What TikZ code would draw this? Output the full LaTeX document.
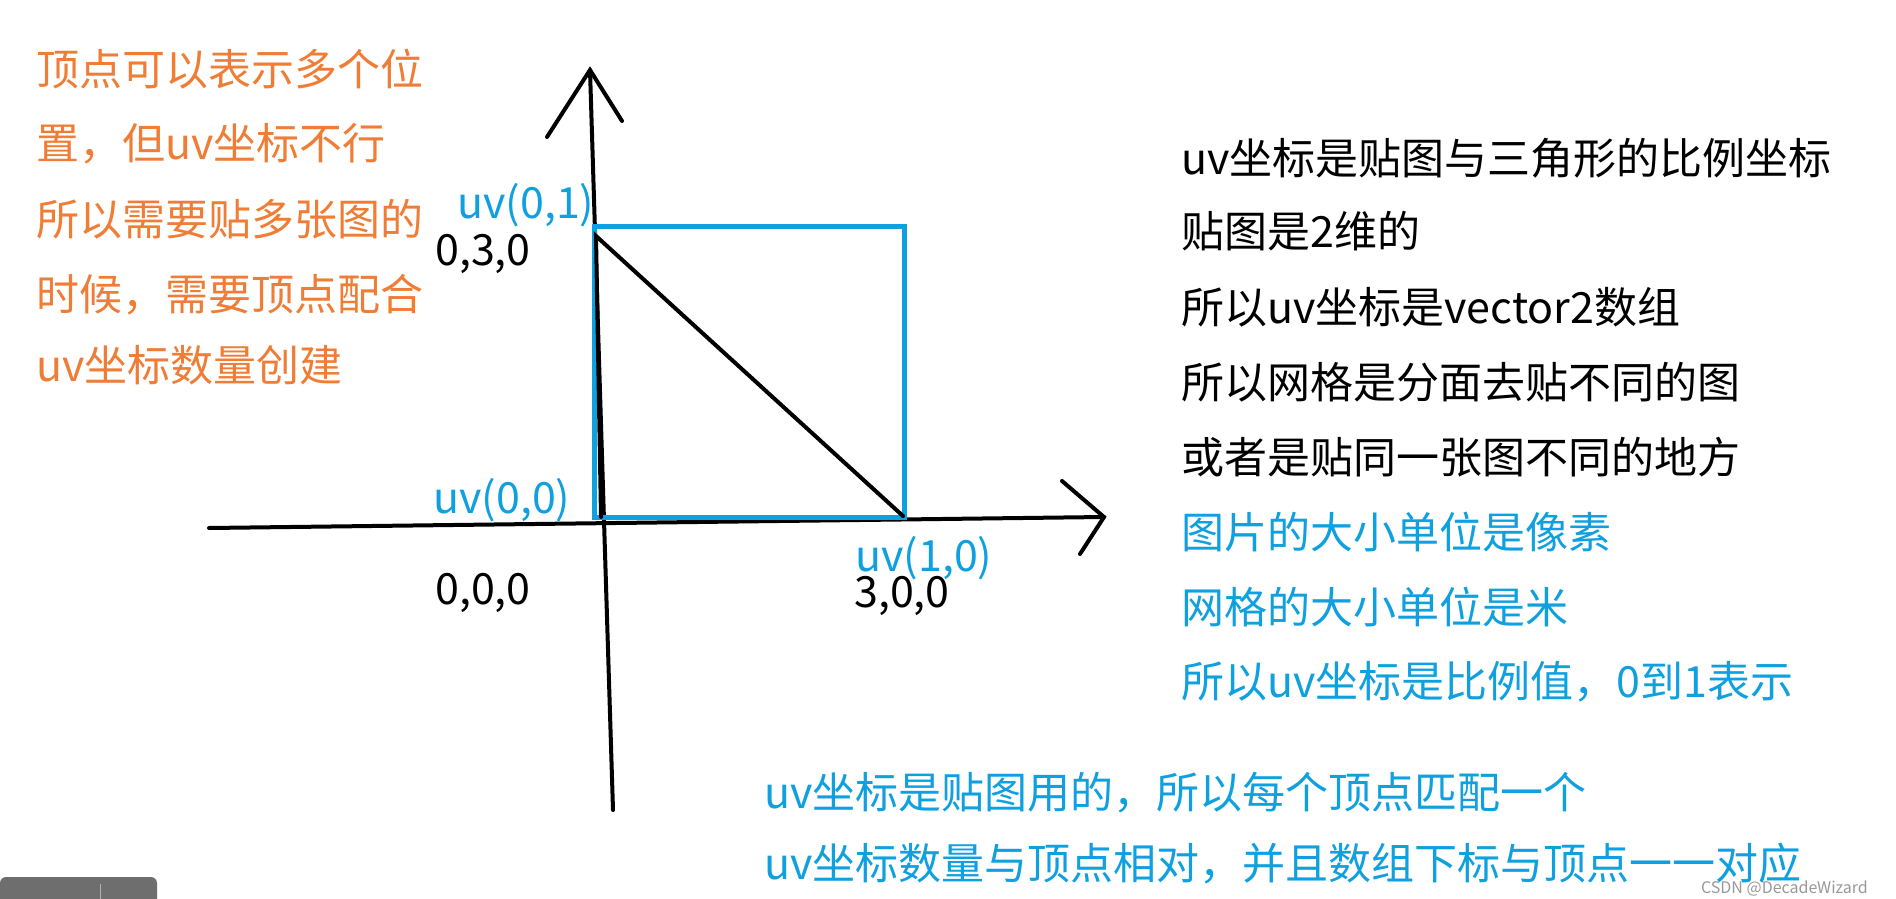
\documentclass[tikz,border=0pt]{standalone}
\usepackage{fontspec}
\newfontfamily\cjk{Noto Sans CJK SC}
\definecolor{orng}{HTML}{F07D36}
\definecolor{uvblue}{HTML}{0FA0E0}
\definecolor{panel}{HTML}{6E6E6E}
\begin{document}
\begin{tikzpicture}[x=1pt,y=-1pt,
  txt/.style={anchor=base west,inner sep=0pt,text depth=0pt,font=\cjk\fontsize{43}{50}\selectfont},
  otxt/.style={txt,text=orng},
  btxt/.style={txt,text=uvblue},
  ktxt/.style={txt,text=black},
  axisline/.style={draw=black,line width=4pt,line cap=round},
  uvbox/.style={draw=uvblue,line width=5pt},
  triline/.style={draw=black,line width=4pt,line cap=round}]
\useasboundingbox (0,0) rectangle (1896,899);
\fill[white] (0,0) rectangle (1896,899);
% left orange notes
\node[otxt] (o1) at (36,85) {顶点可以表示多个位};
\node[otxt] (o2) at (36,159) {置，但uv坐标不行};
\node[otxt] (o3) at (36,235) {所以需要贴多张图的};
\node[otxt] (o4) at (36,310) {时候，需要顶点配合};
\node[otxt] (o5) at (36,381) {uv坐标数量创建};
% axes
\coordinate (ytop) at (590,70);
\coordinate (ybot) at (613,810);
\coordinate (yl) at (547,137);
\coordinate (yr) at (622,121);
\coordinate (xl) at (209,528);
\coordinate (xr) at (1104,517);
\coordinate (xu) at (1062,481);
\coordinate (xd) at (1080,554);
\draw[axisline] (ybot) -- (ytop);
\draw[axisline] (yl) -- (ytop) -- (yr);
\draw[axisline] (xl) -- (xr);
\draw[axisline] (xu) -- (xr) -- (xd);
% uv square
\coordinate (sq1) at (594,226);
\coordinate (sq2) at (904,517);
\draw[uvbox] (sq1) rectangle (sq2);
% triangle
\coordinate (t1) at (596,236);
\coordinate (t2) at (903,516);
\coordinate (t0) at (601,517);
\draw[triline] (t0) -- (t1) -- (t2);
% vertex labels
\node[btxt] (uv01) at (457,218) {uv(0,1)};
\node[ktxt] (p030) at (435,265) {0,3,0};
\node[btxt] (uv00) at (433,513) {uv(0,0)};
\node[ktxt] (p000) at (435,604) {0,0,0};
\node[btxt] (uv10) at (855,571) {uv(1,0)};
\node[ktxt] (p300) at (854,607) {3,0,0};
% right notes
\node[ktxt] (r1) at (1181,174) {uv坐标是贴图与三角形的比例坐标};
\node[ktxt] (r2) at (1181,247) {贴图是2维的};
\node[ktxt] (r3) at (1181,323) {所以uv坐标是vector2数组};
\node[ktxt] (r4) at (1181,398) {所以网格是分面去贴不同的图};
\node[ktxt] (r5) at (1181,473) {或者是贴同一张图不同的地方};
\node[btxt] (r6) at (1181,548) {图片的大小单位是像素};
\node[btxt] (r7) at (1181,623) {网格的大小单位是米};
\node[btxt] (r8) at (1181,697) {所以uv坐标是比例值，0到1表示};
% bottom notes
\node[btxt] (b1) at (764,808) {uv坐标是贴图用的，所以每个顶点匹配一个};
\node[btxt] (b2) at (764,879) {uv坐标数量与顶点相对，并且数组下标与顶点一一对应};
% watermark
\node[anchor=base east,inner sep=0pt,text=gray!80,font=\cjk\fontsize{16}{18}\selectfont] (wm) at (1868,893) {CSDN @DecadeWizard};
% bottom-left panel
\fill[panel,rounded corners=6pt] (0,877) -- (157,877) -- (157,905) -- (0,905) -- cycle;
\draw[gray!60,line width=1pt] (100,884) -- (100,899);
\end{tikzpicture}
\end{document}
